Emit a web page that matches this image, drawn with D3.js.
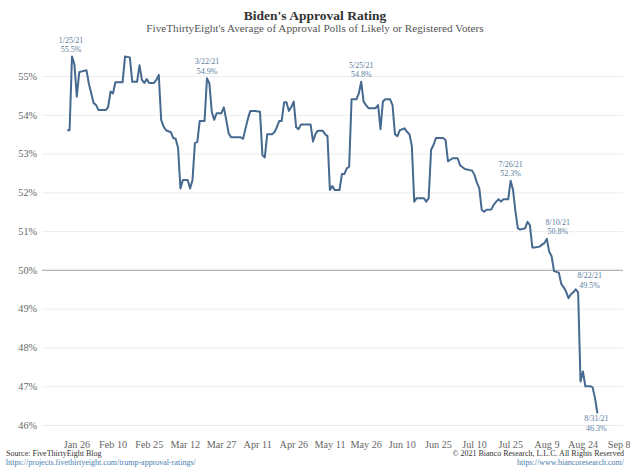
<!DOCTYPE html>
<html>
<head>
<meta charset="utf-8">
<script src="https://cdn.jsdelivr.net/npm/d3@7"></script>
<style>
  html, body { margin: 0; padding: 0; background: #fff; }
  svg { display: block; }
  text { font-family: "Liberation Serif", "DejaVu Serif", serif; }
</style>
</head>
<body>
<svg id="chart" width="630" height="472"></svg>
<script>
// ---------- DATA ----------
const dates = [
  "2021-01-23","2021-01-24","2021-01-25","2021-01-26","2021-01-27","2021-01-28","2021-01-31",
  "2021-02-01","2021-02-03","2021-02-04","2021-02-05","2021-02-08","2021-02-09","2021-02-10",
  "2021-02-11","2021-02-12","2021-02-15","2021-02-16","2021-02-18","2021-02-19","2021-02-21",
  "2021-02-22","2021-02-23","2021-02-24","2021-02-25","2021-02-26","2021-02-28","2021-03-01",
  "2021-03-02","2021-03-03","2021-03-04","2021-03-05","2021-03-07","2021-03-08","2021-03-09",
  "2021-03-10","2021-03-11","2021-03-12","2021-03-14","2021-03-15","2021-03-16","2021-03-17",
  "2021-03-18","2021-03-19","2021-03-21","2021-03-22","2021-03-23","2021-03-24","2021-03-25",
  "2021-03-26","2021-03-28","2021-03-29","2021-03-30","2021-03-31","2021-04-01","2021-04-05",
  "2021-04-06","2021-04-07","2021-04-08","2021-04-09","2021-04-11","2021-04-13","2021-04-14",
  "2021-04-15","2021-04-16","2021-04-18","2021-04-19","2021-04-20","2021-04-21","2021-04-22",
  "2021-04-23","2021-04-24","2021-04-25","2021-04-26","2021-04-27","2021-04-28","2021-04-29",
  "2021-04-30","2021-05-04","2021-05-05","2021-05-06","2021-05-07","2021-05-09","2021-05-10",
  "2021-05-11","2021-05-12","2021-05-13","2021-05-14","2021-05-16","2021-05-17","2021-05-18",
  "2021-05-19","2021-05-20","2021-05-21","2021-05-23","2021-05-24","2021-05-25","2021-05-26",
  "2021-05-27","2021-05-28","2021-05-31","2021-06-01","2021-06-02","2021-06-03","2021-06-04",
  "2021-06-06","2021-06-07","2021-06-08","2021-06-09","2021-06-10","2021-06-12","2021-06-13",
  "2021-06-14","2021-06-15","2021-06-16","2021-06-17","2021-06-20","2021-06-21","2021-06-22",
  "2021-06-23","2021-06-24","2021-06-25","2021-06-28","2021-06-29","2021-06-30","2021-07-01",
  "2021-07-02","2021-07-04","2021-07-05","2021-07-07","2021-07-10","2021-07-11","2021-07-12",
  "2021-07-13","2021-07-14","2021-07-15","2021-07-16","2021-07-18","2021-07-19","2021-07-20",
  "2021-07-21","2021-07-22","2021-07-23","2021-07-25","2021-07-26","2021-07-27","2021-07-28",
  "2021-07-29","2021-07-30","2021-08-01","2021-08-02","2021-08-03","2021-08-04","2021-08-05",
  "2021-08-07","2021-08-08","2021-08-09","2021-08-10","2021-08-11","2021-08-12","2021-08-13",
  "2021-08-14","2021-08-15","2021-08-16","2021-08-17","2021-08-18","2021-08-19","2021-08-20",
  "2021-08-21","2021-08-22","2021-08-23","2021-08-24","2021-08-25","2021-08-26","2021-08-28",
  "2021-08-29","2021-08-30","2021-08-31"
];
const approval = [
  53.6,53.6,55.5,55.3,54.47,55.1,55.15,
  54.8,54.3,54.25,54.12,54.12,54.2,54.6,
  54.55,54.84,54.84,55.5,55.48,54.85,54.85,
  55.28,54.9,54.82,54.92,54.82,54.82,54.9,
  55.03,53.87,53.7,53.6,53.55,53.4,53.38,
  53.15,52.1,52.32,52.32,52.1,52.32,53.27,
  53.3,53.84,53.84,54.94,54.81,54.08,53.87,
  54.04,54.04,54.19,53.87,53.52,53.42,53.42,
  53.38,53.65,53.9,54.1,54.1,54.08,52.96,
  52.9,53.5,53.5,53.55,53.68,53.84,53.84,
  54.32,54.32,54.1,54.2,54.34,53.68,53.63,
  53.75,53.75,53.31,53.5,53.59,53.59,53.5,
  53.45,52.06,52.16,52.06,52.06,52.47,52.47,
  52.62,52.66,54.4,54.4,54.55,54.85,54.34,
  54.25,54.17,54.17,54.25,53.63,54.34,54.4,
  54.4,54.25,53.5,53.45,53.6,53.65,53.56,
  53.5,53.2,51.76,51.85,51.85,51.76,51.85,
  53.1,53.22,53.4,53.4,53.35,52.8,52.84,
  52.88,52.88,52.7,52.6,52.56,52.45,52.25,
  52.1,51.55,51.5,51.55,51.56,51.68,51.76,
  51.82,51.76,51.82,51.82,52.3,52.06,51.5,
  51.07,51.04,51.07,51.24,51.15,50.58,50.58,
  50.6,50.65,50.69,50.8,50.47,50.35,49.97,
  49.95,49.93,49.64,49.55,49.44,49.27,49.37,
  49.42,49.5,49.42,47.12,47.38,47.0,47.0,
  46.97,46.7,46.3
];
const yTicks = [46,47,48,49,50,51,52,53,54,55];
const xTickDates = ["2021-01-26","2021-02-10","2021-02-25","2021-03-12","2021-03-27","2021-04-11",
  "2021-04-26","2021-05-11","2021-05-26","2021-06-10","2021-06-25","2021-07-10","2021-07-25",
  "2021-08-09","2021-08-24","2021-09-08"];
const xTickLabels = ["Jan 26","Feb 10","Feb 25","Mar 12","Mar 27","Apr 11","Apr 26","May 11",
  "May 26","Jun 10","Jun 25","Jul 10","Jul 25","Aug 9","Aug 24","Sep 8"];
const annoDates  = ["2021-01-25","2021-03-22","2021-05-25","2021-07-26","2021-08-10","2021-08-22","2021-08-31"];
const annoTitles = ["1/25/21","3/22/21","5/25/21","7/26/21","8/10/21","8/22/21","8/31/21"];
const annoValues = ["55.5%","54.9%","54.8%","52.3%","50.8%","49.5%","46.3%"];

const title = "Biden's Approval Rating";
const subtitle = "FiveThirtyEight's Average of Approval Polls of Likely or Registered Voters";

// ---------- CHART ----------
const parse = d3.utcParse("%Y-%m-%d");
const data = dates.map((d, i) => ({ date: parse(d), value: approval[i] }));

const svg = d3.select("#chart");

const x = d3.scaleUtc()
  .domain([parse("2021-01-25"), parse("2021-08-31")])
  .range([72, 597.4]);
const y = d3.scaleLinear().domain([46, 55]).range([425, 76]);

const lineColor = "#46698f";
const annoColor = "#5a7d9e";

// title
svg.append("text").attr("x", 315).attr("y", 20).attr("text-anchor", "middle")
  .attr("font-size", 13.5).attr("font-weight", "bold").attr("fill", "#333").text(title);
svg.append("text").attr("x", 315).attr("y", 32).attr("text-anchor", "middle")
  .attr("font-size", 11.2).attr("fill", "#555").text(subtitle);

// gridlines (y axis)
const yAxis = d3.axisLeft(y).tickValues(yTicks)
  .tickSize(-(623 - 42)).tickPadding(5).tickFormat(d => d + "%");
const gy = svg.append("g").attr("transform", "translate(42,0)").call(yAxis);
gy.select(".domain").remove();
gy.selectAll(".tick line").attr("stroke", d => d === 50 ? "#b4b4b4" : "#ececec")
  .attr("stroke-width", d => d === 50 ? 1.3 : 1);
gy.selectAll(".tick text").attr("fill", "#666").attr("font-size", 10.2)
  .attr("font-family", "'Liberation Serif', serif");

// x axis labels
const xAxis = d3.axisBottom(x).tickValues(xTickDates.map(parse))
  .tickFormat((d, i) => xTickLabels[i]).tickSize(0).tickPadding(0);
const gx = svg.append("g").attr("transform", "translate(0,441)").call(xAxis);
gx.select(".domain").remove();
gx.selectAll(".tick text").attr("fill", "#666").attr("font-size", 10.2)
  .attr("font-family", "'Liberation Serif', serif").attr("dx", 2);

// line
const line = d3.line().x(d => x(d.date)).y(d => y(d.value));
svg.append("path").datum(data).attr("d", line)
  .attr("fill", "none").attr("stroke", lineColor).attr("stroke-width", 2)
  .attr("stroke-linejoin", "round");

// annotations
const annoOffsets = [
  { dx: -1, dy1: -14, dy2: -4.5 },
  { dx: 0, dy1: -14, dy2: -4.5 },
  { dx: 0, dy1: -14, dy2: -4.5 },
  { dx: 0, dy1: -14, dy2: -4.5 },
  { dx: 11, dy1: -14, dy2: -4.5 },
  { dx: 14, dy1: -11, dy2: -1.5 },
  { dx: -1, dy1: 8, dy2: 17.5 }
];
annoDates.forEach((d, i) => {
  const pt = data.find(p => +p.date === +parse(d));
  const px = x(pt.date), py = y(pt.value);
  const o = annoOffsets[i];
  const g = svg.append("g").attr("fill", annoColor).attr("font-size", 8).attr("text-anchor", "middle");
  g.append("text").attr("x", px + o.dx).attr("y", py + o.dy1).text(annoTitles[i]);
  g.append("text").attr("x", px + o.dx).attr("y", py + o.dy2).text(annoValues[i]);
});

// footer
svg.append("text").attr("x", 6).attr("y", 456).attr("font-size", 8).attr("fill", "#333")
  .text("Source: FiveThirtyEight Blog");
svg.append("text").attr("x", 6).attr("y", 465).attr("font-size", 8).attr("fill", "#4a7db0")
  .text("https://projects.fivethirtyeight.com/trump-approval-ratings/");
svg.append("text").attr("x", 624).attr("y", 456).attr("font-size", 8).attr("fill", "#333")
  .attr("text-anchor", "end").text("© 2021 Bianco Research, L.L.C. All Rights Reserved");
svg.append("text").attr("x", 624).attr("y", 465).attr("font-size", 8).attr("fill", "#4a7db0")
  .attr("text-anchor", "end").text("https://www.biancoresearch.com/");
</script>
</body>
</html>
